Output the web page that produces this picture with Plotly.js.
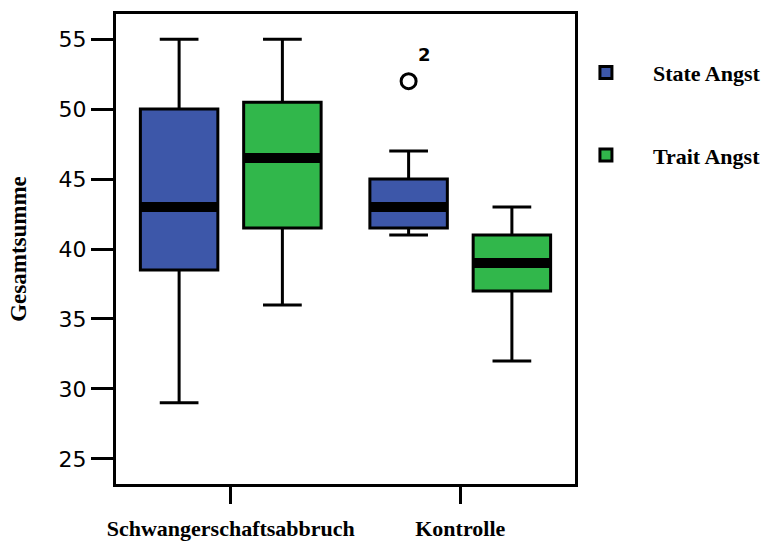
<!DOCTYPE html>
<html>
<head>
<meta charset="utf-8">
<script src="https://cdn.plot.ly/plotly-3.0.1.min.js"></script>
<style>html,body{margin:0;padding:0;background:#fff;}#chart{width:778px;height:547px;}</style>
</head>
<body>
<div id="chart"></div>
<script>
const categories = ['Schwangerschaftsabbruch', 'Kontrolle'];
const seriesNames = ['State Angst', 'Trait Angst'];

const stateLower  = [29, 41];
const stateQ1     = [38.5, 41.5];
const stateMedian = [43, 43];
const stateQ3     = [50, 45];
const stateUpper  = [55, 47];
const stateOutlierCategory = ['Kontrolle'];
const stateOutlierValues = [52];
const outlierLabel = '2';

const traitLower  = [36, 32];
const traitQ1     = [41.5, 37];
const traitMedian = [46.5, 39];
const traitQ3     = [50.5, 41];
const traitUpper  = [55, 43];

const blue = '#3D57A9';
const green = '#31B74B';
const serif = 'Liberation Serif, Times New Roman, serif';

function mainBox(name, color, group, lo, q1, med, q3, hi) {
  return {
    type: 'box', name: name, x: categories,
    lowerfence: lo, q1: q1, median: med, q3: q3, upperfence: hi,
    fillcolor: color, line: {color: '#000', width: 3},
    whiskerwidth: 0.5, offsetgroup: group, legendgroup: group,
    boxpoints: false, hoverinfo: 'skip'
  };
}
function medianBar(group, med) {
  return {
    type: 'box', x: categories,
    lowerfence: med, q1: med, median: med, q3: med, upperfence: med,
    fillcolor: 'rgba(0,0,0,0)', line: {color: '#000', width: 10},
    whiskerwidth: 0, offsetgroup: group, legendgroup: group,
    boxpoints: false, showlegend: false, hoverinfo: 'skip'
  };
}

const data = [
  mainBox(seriesNames[0], blue, 'state', stateLower, stateQ1, stateMedian, stateQ3, stateUpper),
  mainBox(seriesNames[1], green, 'trait', traitLower, traitQ1, traitMedian, traitQ3, traitUpper),
  medianBar('state', stateMedian),
  medianBar('trait', traitMedian),
  {
    type: 'box', x: stateOutlierCategory, y: stateOutlierValues,
    offsetgroup: 'state', legendgroup: 'state', showlegend: false,
    boxpoints: 'all', jitter: 0, pointpos: 0,
    fillcolor: 'rgba(0,0,0,0)', line: {color: 'rgba(0,0,0,0)', width: 0},
    marker: {symbol: 'circle-open', size: 15, color: '#000', line: {width: 3, color: '#000'}},
    hoverinfo: 'skip'
  }
];

const layout = {
  width: 778, height: 547,
  margin: {l: 116, r: 200, t: 14, b: 63},
  paper_bgcolor: '#fff', plot_bgcolor: '#fff',
  boxmode: 'group', boxgap: 0.1, boxgroupgap: 0.25,
  showlegend: true,
  legend: {
    x: 0.965, xanchor: 'left', y: 0.92, yanchor: 'top',
    font: {family: serif, size: 22, color: '#000', weight: 'bold'},
    tracegroupgap: 51, itemwidth: 84, bgcolor: 'rgba(0,0,0,0)',
    traceorder: 'grouped'
  },
  xaxis: {
    type: 'category', categoryarray: categories, range: [-0.5, 1.5],
    showgrid: false, zeroline: false,
    showline: true, linecolor: '#000', linewidth: 3, mirror: true,
    ticks: 'outside', ticklen: 17, tickwidth: 3, tickcolor: '#000',
    ticklabelstandoff: 6,
    tickfont: {family: serif, size: 22, color: '#000', weight: 'bold'}
  },
  yaxis: {
    range: [23.2, 56.8], tickvals: [25, 30, 35, 40, 45, 50, 55],
    showgrid: false, zeroline: false,
    showline: true, linecolor: '#000', linewidth: 3, mirror: true,
    ticks: 'outside', ticklen: 22, tickwidth: 3, tickcolor: '#000',
    tickfont: {family: 'DejaVu Sans, Liberation Sans, sans-serif', size: 22, color: '#000'},
    title: {text: 'Gesamtsumme', standoff: 26, font: {family: serif, size: 23, color: '#000', weight: 'bold'}}
  },
  annotations: [{
    xref: 'x', yref: 'y', x: categories[1], y: 53.9, xshift: -36,
    text: outlierLabel, showarrow: false,
    font: {family: 'DejaVu Sans, sans-serif', size: 18, color: '#000', weight: 'bold'}
  }]
};

Plotly.newPlot('chart', data, layout, {displayModeBar: false, staticPlot: true});
</script>
</body>
</html>
